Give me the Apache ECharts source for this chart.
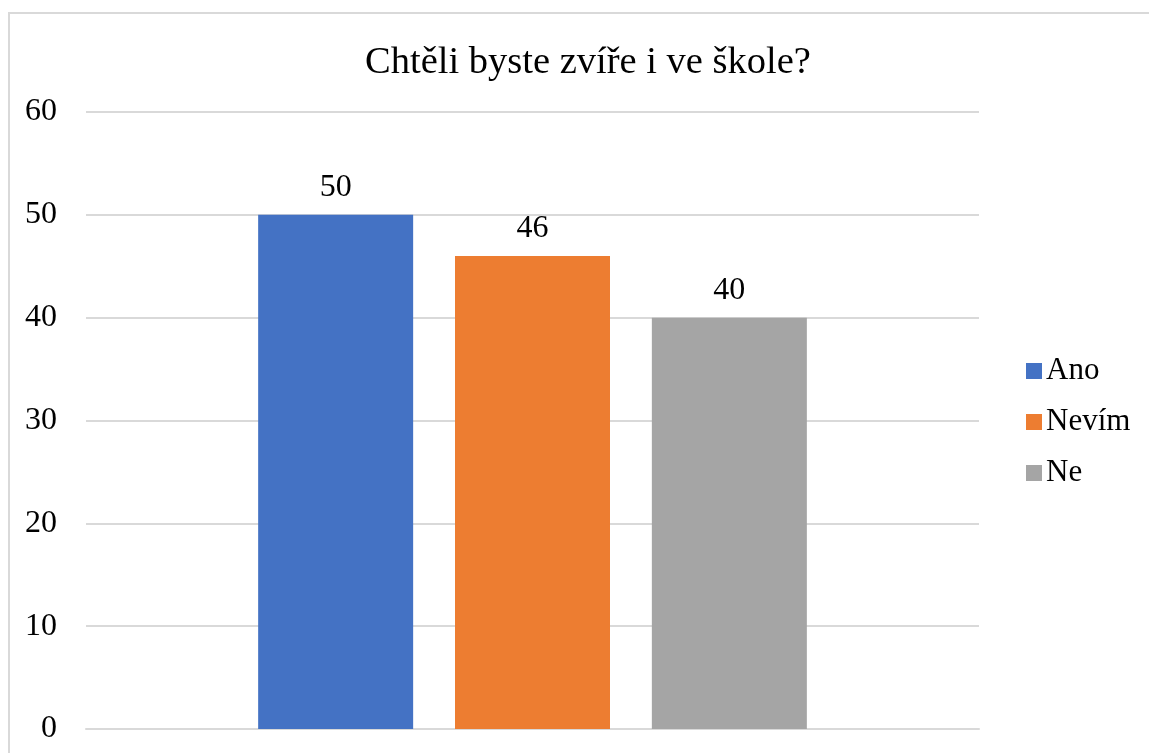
<!DOCTYPE html>
<html>
<head>
<meta charset="utf-8">
<script src="https://cdn.jsdelivr.net/npm/echarts@6/dist/echarts.min.js"></script>
<style>
  html, body { margin: 0; padding: 0; background: #fff; }
  #chart { width: 1149px; height: 753px; }
</style>
</head>
<body>
<div id="chart"></div>
<script>
const categories = [''];
const seriesNames = ['Ano', 'Nevím', 'Ne'];
const seriesValues = [50, 46, 40];
const seriesColors = ['#4472c4', '#ed7d31', '#a5a5a5'];
const yTicks = [0, 10, 20, 30, 40, 50, 60];

const chart = echarts.init(document.getElementById('chart'));
const font = '"Liberation Serif", "Times New Roman", serif';

const options = {
  animation: false,
  textStyle: { fontFamily: font },
  graphic: [{
    type: 'rect',
    shape: { x: 9, y: 13, width: 1200, height: 800 },
    style: { fill: 'none', stroke: '#d9d9d9', lineWidth: 2 },
    silent: true
  }],
  title: {
    text: 'Chtěli byste zvíře i ve škole?',
    left: 583,
    textAlign: 'center',
    top: 38,
    textStyle: { fontFamily: font, fontWeight: 'normal', fontSize: 38.5, color: '#000' }
  },
  legend: {
    orient: 'vertical',
    left: 1021,
    top: 350,
    itemWidth: 16,
    itemHeight: 16,
    itemGap: 19,
    icon: 'rect',
    textStyle: { fontFamily: font, fontSize: 31, lineHeight: 32, color: '#000', padding: [0, 0, 0, -1] },
    data: seriesNames
  },
  grid: { left: 86, right: 170, top: 112, bottom: 24 },
  xAxis: {
    type: 'category',
    data: categories,
    axisLine: { lineStyle: { color: '#d9d9d9', width: 2 } },
    axisTick: { show: false },
    axisLabel: { show: false }
  },
  yAxis: {
    type: 'value',
    min: yTicks[0],
    max: yTicks[yTicks.length - 1],
    interval: 10,
    axisLine: { show: false },
    axisTick: { show: false },
    axisLabel: { fontFamily: font, fontSize: 32, color: '#000', margin: 29 },
    splitLine: { lineStyle: { color: '#d9d9d9', width: 2 } }
  },
  series: seriesNames.map((name, i) => ({
    name: name,
    type: 'bar',
    barWidth: 155,
    barGap: '27%',
    itemStyle: { color: seriesColors[i] },
    label: {
      show: true,
      position: 'top',
      distance: 11,
      fontFamily: font,
      fontSize: 32,
      color: '#000'
    },
    data: [seriesValues[i]]
  }))
};

chart.setOption(options);
</script>
</body>
</html>
